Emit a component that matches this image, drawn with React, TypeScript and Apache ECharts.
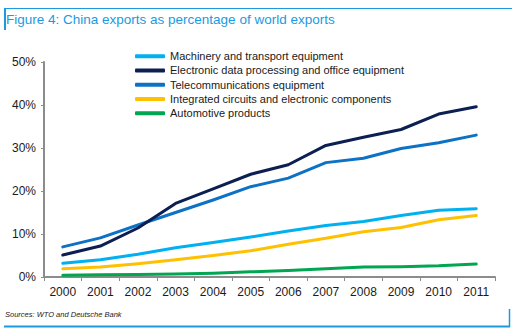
import React, { useEffect, useRef } from "react";
import * as echarts from "echarts";

const years = ["2000", "2001", "2002", "2003", "2004", "2005", "2006", "2007", "2008", "2009", "2010", "2011"];
const machinery = [3.2, 4.0, 5.3, 6.8, 8.0, 9.3, 10.7, 12.0, 12.9, 14.3, 15.5, 15.9];
const electronicData = [5.1, 7.2, 11.4, 17.1, 20.5, 23.9, 26.1, 30.6, 32.5, 34.3, 37.9, 39.6];
const telecom = [7.0, 9.1, 12.1, 15.0, 17.9, 21.0, 23.0, 26.6, 27.6, 29.9, 31.2, 33.0];
const integrated = [1.9, 2.3, 3.1, 4.0, 5.0, 6.1, 7.6, 9.0, 10.5, 11.5, 13.3, 14.3];
const automotive = [0.4, 0.5, 0.6, 0.7, 0.9, 1.2, 1.5, 1.9, 2.3, 2.4, 2.6, 3.0];
const yTicks = [0, 10, 20, 30, 40, 50];

const seriesNames = [
  "Machinery and transport equipment",
  "Electronic data processing and office equipment",
  "Telecommunications equipment",
  "Integrated circuits and electronic components",
  "Automotive products",
];
const seriesColors = ["#00b0f0", "#0c1f52", "#0e72c4", "#ffc000", "#00a651"];

export default function App() {
  const ref = useRef<HTMLDivElement>(null);
  useEffect(() => {
    if (!ref.current) return;
    const chart = echarts.init(ref.current, null, { renderer: "svg" });
    const data = [machinery, electronicData, telecom, integrated, automotive];
    const blue = "#1a9ae0";
    chart.setOption({
      animation: false,
      backgroundColor: "#ffffff",
      textStyle: { fontFamily: "Liberation Sans, Arial, sans-serif" },
      title: {
        text: "Figure 4: China exports as percentage of world exports",
        left: 6,
        top: 12,
        padding: 0,
        textStyle: { color: blue, fontSize: 13.5, fontWeight: "normal", fontFamily: "Liberation Sans, Arial, sans-serif" },
      },
      legend: {
        orient: "vertical",
        left: 135,
        top: 49,
        padding: 0,
        itemGap: 0,
        itemWidth: 30,
        itemHeight: 4,
        itemTextGap: 3,
        icon: "roundRect",
        data: seriesNames,
        textStyle: { color: "#1a1a1a", fontSize: 11, lineHeight: 14.25, fontFamily: "Liberation Sans, Arial, sans-serif" },
      },
      grid: { left: 44, right: 19, top: 62, bottom: 54, containLabel: false },
      xAxis: {
        type: "category",
        data: years,
        boundaryGap: true,
        axisLine: { lineStyle: { color: "#8c8c8c", width: 2 } },
        axisTick: { show: true, length: 4, lineStyle: { color: "#8c8c8c", width: 1 } },
        axisLabel: { color: "#1a1a1a", fontSize: 12, margin: 9, fontFamily: "Liberation Sans, Arial, sans-serif" },
        splitLine: { show: false },
      },
      yAxis: {
        type: "value",
        min: yTicks[0],
        max: yTicks[yTicks.length - 1],
        interval: 10,
        axisLine: { show: true, lineStyle: { color: "#8c8c8c", width: 2 } },
        axisTick: { show: true, length: 3, lineStyle: { color: "#8c8c8c", width: 1 } },
        axisLabel: { color: "#1a1a1a", fontSize: 12, margin: 8, formatter: "{value}%", fontFamily: "Liberation Sans, Arial, sans-serif" },
        splitLine: { show: false },
      },
      graphic: [
        { type: "line", shape: { x1: 4, y1: 8.5, x2: 512, y2: 8.5 }, style: { stroke: blue, lineWidth: 1 } },
        { type: "line", shape: { x1: 5, y1: 8, x2: 5, y2: 30 }, style: { stroke: blue, lineWidth: 2 } },
        { type: "line", shape: { x1: 4, y1: 326.5, x2: 510, y2: 326.5 }, style: { stroke: blue, lineWidth: 2 } },
        { type: "line", shape: { x1: 509.5, y1: 309, x2: 509.5, y2: 327 }, style: { stroke: blue, lineWidth: 1.5 } },
        {
          type: "text",
          left: 5,
          top: 310,
          style: { text: "Sources: WTO and Deutsche Bank", fill: "#1a1a1a", fontSize: 7.5, fontStyle: "italic", fontFamily: "Liberation Sans, Arial, sans-serif" },
        },
      ],
      series: seriesNames.map((name, i) => ({
        name,
        type: "line",
        data: data[i],
        symbol: "none",
        color: seriesColors[i],
        lineStyle: { width: 3, color: seriesColors[i], cap: "round", join: "round" },
        z: 10 - i,
      })),
    });
    return () => chart.dispose();
  }, []);
  return <div ref={ref} style={{ width: 514, height: 331, position: "absolute", left: 0, top: 0 }} />;
}
